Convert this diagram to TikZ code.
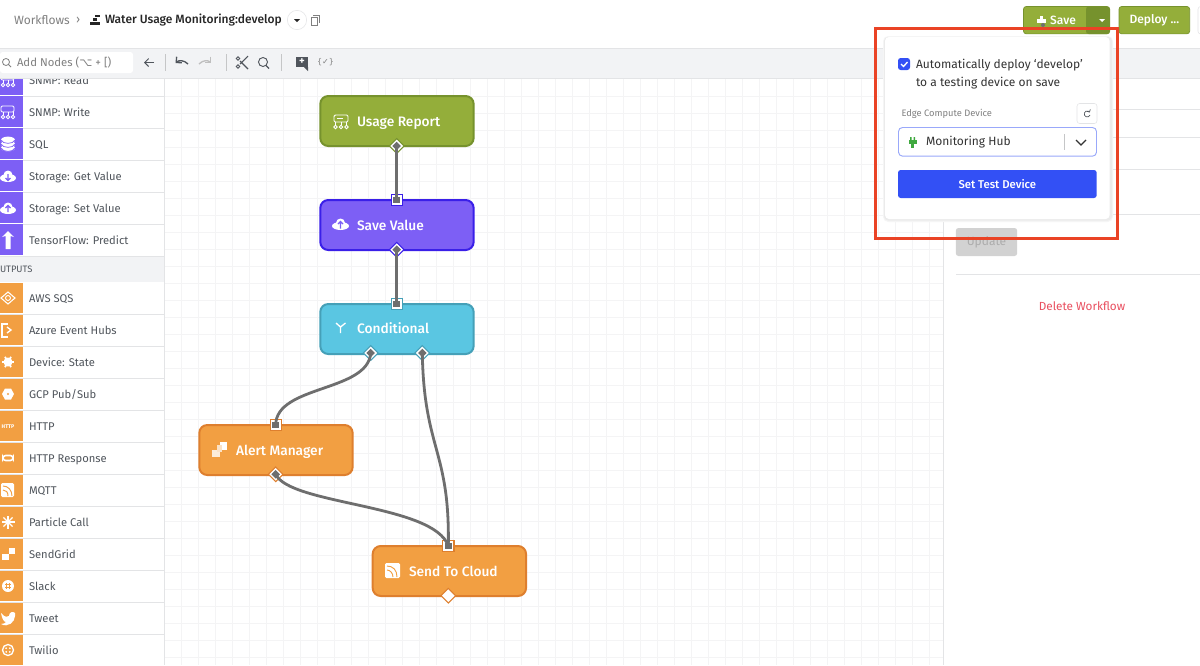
\documentclass[tikz,border=0pt]{standalone}
\usepackage{fontspec}
\setmainfont{Fira Sans}
\newfontfamily\medfont{Fira Sans Medium}
\newfontfamily\symfont{DejaVu Sans}
\usetikzlibrary{positioning,shapes.geometric,arrows.meta}
\definecolor{txtgrey}{HTML}{50555C}
\definecolor{linegrey}{HTML}{E3E4E6}
\definecolor{bargrey}{HTML}{F2F3F5}
\definecolor{gridgrey}{HTML}{F4F4F5}
\definecolor{wireGrey}{HTML}{6E6E6E}
\definecolor{oliveFill}{HTML}{94AE3A}
\definecolor{oliveEdge}{HTML}{76922D}
\definecolor{purpleFill}{HTML}{7D5FF5}
\definecolor{purpleEdge}{HTML}{3A1FE8}
\definecolor{cyanFill}{HTML}{5AC6E2}
\definecolor{cyanEdge}{HTML}{45A0B8}
\definecolor{orangeFill}{HTML}{F29F42}
\definecolor{orangeEdge}{HTML}{DE7F2E}
\definecolor{blueBtn}{HTML}{3350F5}
\definecolor{redFrame}{HTML}{EA4325}
\definecolor{deleteRed}{HTML}{E94F5F}
\tikzset{
	every node/.style={outer sep=0pt,inner sep=0pt},
	flownode/.style={draw=#1Edge,fill=#1Fill,line width=1.5pt,rounded corners=6,minimum width=115pt,minimum height=37.5pt,anchor=north west},
	flowtext/.style={text=white,font=\fontsize{10.3}{12}\medfont,anchor=base west},
	outport/.style={diamond,draw=#1,fill=white,line width=.8pt,minimum size=11pt,
		path picture={\fill[wireGrey] (path picture bounding box.center) ++(-3.2pt,0pt) -- ++(3.2pt,3.2pt) -- ++(3.2pt,-3.2pt) -- ++(-3.2pt,-3.2pt) -- cycle;}},
	freeport/.style={diamond,draw=#1,fill=white,line width=.8pt,minimum size=11pt},
	inport/.style={rectangle,draw=#1,fill=white,line width=.8pt,minimum size=8.5pt,
		path picture={\fill[wireGrey] (path picture bounding box.center) ++(-2.6pt,-2.6pt) rectangle ++(5.2pt,5.2pt);}},
	wire/.style={draw=wireGrey,line width=2.1pt},
	listtext/.style={text=txtgrey,font=\fontsize{8.4}{10}\selectfont,anchor=base west},
	menubtn/.style={draw=oliveEdge,fill=oliveFill,rounded corners=2,line width=.5pt,anchor=north west},
	tooltext/.style={text=gray,font=\fontsize{8.5}{10}\selectfont},
	poptext/.style={anchor=west,text=black!80,font=\fontsize{9}{11}\selectfont},
}
\begin{document}
\begin{tikzpicture}[x=0.75pt,y=-0.75pt]
	% page
	\fill[white] (0,0) rectangle (1200,665);
	\useasboundingbox (0,0) rectangle (1200,665);

	% grid of the canvas
	\begin{scope}
		\clip (165,78) rectangle (943,665);
		\foreach \gx in {181,198,...,945} \draw[gridgrey,line width=.5pt] (\gx,78) -- (\gx,665);
		\foreach \gy in {96,113,...,665} \draw[gridgrey,line width=.5pt] (165,\gy) -- (943,\gy);
	\end{scope}

	% palette
	\fill[bargrey] (0,257) rectangle (164,282);
	\node[anchor=west,text=txtgrey,font=\fontsize{7}{8}\selectfont] (outputshead) at (0,269) {UTPUTS};
	\foreach \ly/\ltext in {80/SNMP: Read,112/SNMP: Write,144/SQL,176/Storage: Get Value,208/Storage: Set Value,240/TensorFlow: Predict}{
		\fill[purpleFill] (0,\ly-16) rectangle (23,\ly+15);
		\draw[linegrey] (0,\ly+16) -- (164,\ly+16);
		\node[listtext] at (29,\ly+4) {\ltext};
	}
	\foreach \ly/\ltext in {298/AWS SQS,330/Azure Event Hubs,362/Device: State,394/{GCP Pub/Sub},426/HTTP,458/HTTP Response,490/MQTT,522/Particle Call,554/SendGrid,586/Slack,618/Tweet,650/Twilio}{
		\fill[orangeFill] (0,\ly-15) rectangle (23,\ly+15);
		\draw[linegrey] (0,\ly+16) -- (164,\ly+16);
		\node[listtext] at (29,\ly+4) {\ltext};
	}
	\draw[linegrey] (164.5,78) -- (164.5,665);
	% palette icons
	\foreach \iy in {80,112} {
		\draw[white,line width=.7pt,rounded corners=1] (1,\iy-6) rectangle (14,\iy);
		\foreach \ix in {3,8,13} {
			\draw[white,line width=.6pt] (\ix,\iy+5) circle (1.7);
			\draw[white,line width=.5pt] (\ix,\iy+3) -- (\ix,\iy);
		}
	}
	\foreach \iy in {148,144,140} {
		\fill[white] (8,\iy) ellipse (7 and 3.4);
		\draw[purpleFill,line width=.5pt] (1,\iy) .. controls (3,\iy+4.5) and (13,\iy+4.5) .. (15,\iy);
	}
	\foreach \iy in {176,208} {
		\fill[white] (8,\iy+2) ellipse (8 and 4);
		\fill[white] (8,\iy-1) circle (4.5);
	}
	\draw[purpleFill,line width=1pt] (8,174) -- (8,180) (5.5,178) -- (8,180.5) -- (10.5,178);
	\draw[purpleFill,line width=1pt] (8,212) -- (8,206) (5.5,208) -- (8,205.5) -- (10.5,208);
	\fill[white] (8,231) -- (14,237) -- (10.5,236) -- (10.5,249) -- (5.5,249) -- (5.5,236) -- (2,237) -- cycle;
	\draw[white,line width=.8pt] (1,298) -- (8,292) -- (15,298) -- (8,304) -- cycle;
	\draw[white,line width=.7pt] (8,298) circle (2.5);
	\draw[white,line width=1pt] (8,324) -- (2,324) -- (2,337) -- (8,337);
	\draw[white,line width=1pt] (7,327) -- (11,330) -- (7,333);
	\fill[white] (8,362) circle (4.5);
	\foreach \ang in {0,60,...,300} \draw[white,line width=1.3pt] (8,362) -- ++(\ang:6);
	\fill[white] (2,394) -- (5,388.5) -- (11,388.5) -- (14,394) -- (11,399.5) -- (5,399.5) -- cycle;
	\fill[orangeFill] (8,394) circle (1.2);
	\node[text=white,font=\fontsize{4}{5}\selectfont\bfseries] (httpicon) at (8,426.5) {HTTP};
	\draw[white,line width=1.2pt,rounded corners=2] (3,455.5) rectangle (13,460.5);
	\fill[white,rounded corners=1] (1,483) rectangle (14,497);
	\draw[orangeFill,line width=.7pt] (3,486) .. controls (8,486) and (12,490) .. (12,496);
	\draw[orangeFill,line width=.7pt] (3,490) .. controls (6,490) and (8,492) .. (8,496);
	\foreach \ang in {0,45,...,315} \draw[white,line width=1pt] (8,522) -- ++(\ang:6.5);
	\fill[white] (9,548) rectangle (15,554);
	\fill[white] (2,554) rectangle (9,560);
	\fill[white] (8,586) circle (6);
	\draw[orangeFill,line width=.5pt] (6.5,583) -- (6.5,589) (9.5,583) -- (9.5,589) (5,584.5) -- (11,584.5) (5,587.5) -- (11,587.5);
	\fill[white] (1,613) .. controls (5,618) and (8,617) .. (9,616) .. controls (9,612) and (13,611) .. (15,613) -- (15,616) .. controls (15,622) and (8,628) .. (1,624) .. controls (4,624) and (5,623) .. (6,622) .. controls (4,622) and (2,619) .. (1,613) -- cycle;
	\draw[white,line width=1pt] (8,650) circle (5.5);
	\foreach \ix/\iy in {6.2/648.2,9.8/648.2,6.2/651.8,9.8/651.8} \fill[white] (\ix,\iy) circle (1);

	% toolbar
	\fill[bargrey] (0,48) rectangle (1200,78);
	\draw[linegrey] (0,48) -- (1200,48);
	\draw[linegrey] (0,78) -- (1200,78);
	\draw[linegrey] (943,78) -- (943,665);
	\fill[white,rounded corners=2] (0,52) rectangle (133,73);
	\draw[gray,line width=.6pt] (6,62) circle (3.5);
	\draw[gray,line width=.6pt] (8.5,64.5) -- (11,67);
	\node[tooltext,anchor=west] (addnodes) at (17,63) {Add Nodes ({\symfont ⌥} + [)};
	\draw[-{Straight Barb[length=3pt]},txtgrey,line width=.7pt] (154,62.5) -- (144,62.5);
	\foreach \sx in {165,226,281} \draw[linegrey!70!gray,line width=.7pt] (\sx,54) -- (\sx,71);
	\draw[-{Straight Barb[length=3pt]},txtgrey,line width=1pt] (188,64) .. controls (184,60) and (179,60) .. (175.5,63);
	\draw[-{Straight Barb[length=3pt]},gray!50,line width=1pt] (199,64) .. controls (203,60) and (208,60) .. (211,63);
	\draw[txtgrey,line width=.8pt] (240,64) -- (248,56) (240,61) -- (248,69);
	\draw[txtgrey,line width=.7pt] (238,58.5) circle (1.8) (238,66.5) circle (1.8);
	\draw[txtgrey,line width=.7pt] (263,62) circle (4.5);
	\draw[txtgrey,line width=.8pt] (266,65.5) -- (269,68.5);
	\fill[txtgrey] (296,57) rectangle (308,67);
	\fill[txtgrey] (304,67) -- (308,67) -- (308,71) -- cycle;
	\node[text=white,font=\fontsize{8}{8}\selectfont\bfseries] (addnote) at (302,61.5) {+};
	\node[tooltext,font=\fontsize{6}{8}\symfont] (fnicon) at (325.5,62.5) {\{✓\}};

	% header
	\node[anchor=west,text=gray,font=\fontsize{9}{10}\selectfont] (crumb) at (14,20) {Workflows};
	\node[anchor=west,text=gray,font=\fontsize{9}{10}\selectfont] (crumbsep) at (76,20) {›};
	\fill[black!85] (90,22) rectangle (100,25);
	\fill[black!85] (93,18) rectangle (97,21);
	\fill[black!85] (95,15) rectangle (100,16.5);
	\node[anchor=west,text=black!85,font=\fontsize{9}{10}\medfont] (title) at (105,20) {Water Usage Monitoring:develop};
	\node[circle,draw=linegrey,fill=white,minimum size=14.5pt] (titlemenu) at (297,20) {};
	\fill[black!85] (294,19) -- (300,19) -- (297,22) -- cycle;
	\draw[gray,line width=.5pt] (311,17) rectangle (317,25);
	\draw[gray,line width=.5pt] (313,15) -- (319,15) -- (319,23);

	\node[menubtn,minimum width=64.5pt,minimum height=20.5pt] (savebtn) at (1023.5,6.5) {};
	\fill[oliveEdge,rounded corners=2] (1086,6.5) rectangle (1110,34);
	\fill[white] (1099,19) -- (1105,19) -- (1102,22) -- cycle;
	\node[text=white,font=\fontsize{9}{10}\medfont] (savetext) at (1063,20) {Save};
	\fill[white] (1037,19) rectangle (1046,23);
	\fill[white] (1040,16) rectangle (1043,19);
	\fill[wireGrey] (1043,25) circle (2);
	\node[menubtn,minimum width=53pt,minimum height=20.5pt,text=white,font=\fontsize{9}{10}\medfont] (deploybtn) at (1119,6.5) {Deploy ...};
	\draw[linegrey,fill=white,rounded corners=2] (1198,6.5) rectangle (1210,34);

	% workflow nodes
	\node[flownode=olive] (usage) at (320.3,96) {};
	\node[flownode=purple] (savevalue) at (320.3,200) {};
	\node[flownode=cyan] (conditional) at (320.3,304) {};
	\node[flownode=orange] (alert) at (199.3,425) {};
	\node[flownode=orange] (cloud) at (372.7,546) {};
	\node[flowtext] (usagetext) at (357,126) {Usage Report};
	\node[flowtext] (savevaluetext) at (357,230) {Save Value};
	\node[flowtext] (conditionaltext) at (357,333.5) {Conditional};
	\node[flowtext] (alerttext) at (236,455) {Alert Manager};
	\node[flowtext] (cloudtext) at (409,576) {Send To Cloud};

	% node icons
	\draw[white,line width=.7pt,rounded corners=1] (334,115) rectangle (348,122);
	\draw[white,line width=.6pt] (337,118.5) -- (343,118.5);
	\foreach \ix in {335.5,341,346.5} {
		\draw[white,line width=.6pt] (\ix,127) circle (1.8);
		\draw[white,line width=.5pt] (\ix,125) -- (\ix,122);
	}
	\fill[white] (340.5,226) ellipse (8.5 and 4);
	\fill[white] (340.5,223) circle (4.5);
	\draw[purpleFill,line width=1pt] (340.5,228.5) -- (340.5,222) (338,224) -- (340.5,221.5) -- (343,224);
	\draw[white,line width=1pt] (340.5,333) -- (340.5,327) -- (336,323) (340.5,327) -- (345.5,323);
	\fill[white] (219.5,442) rectangle (227,449.5);
	\fill[white!80!orangeFill] (212,449.5) rectangle (219.5,457);
	\fill[white!70!orangeFill] (217,444.5) rectangle (222,452);
	\fill[white,rounded corners=1] (385,563) rectangle (400,578);
	\draw[orangeFill,line width=.7pt] (387,566) .. controls (393,566) and (397,570) .. (397,577);
	\draw[orangeFill,line width=.7pt] (387,570) .. controls (390,570) and (393,573) .. (393,577);

	% ports
	\node[outport=oliveEdge] (usageOut) at (396.7,146) {};
	\node[inport=purpleEdge] (saveIn) at (396.7,200) {};
	\node[outport=purpleEdge] (saveOut) at (396.7,249.7) {};
	\node[inport=cyanEdge] (condIn) at (396.7,304) {};
	\node[outport=cyanEdge] (condOutA) at (370.7,353) {};
	\node[outport=cyanEdge] (condOutB) at (422.3,353) {};
	\node[inport=orangeEdge] (alertIn) at (275.7,425) {};
	\node[outport=orangeEdge] (alertOut) at (275.7,474.3) {};
	\node[inport=orangeEdge] (cloudIn) at (448.3,546) {};
	\node[freeport=orangeEdge] (cloudOut) at (448.3,595.7) {};

	% wires
	\draw[wire] (usageOut.center) -- (saveIn.center);
	\draw[wire] (saveOut.center) -- (condIn.center);
	\draw[wire] (condOutA.center) .. controls (368,392) and (276,385) .. (alertIn.center);
	\draw[wire] (condOutB.center) .. controls (424,450) and (450,450) .. (cloudIn.center);
	\draw[wire] (alertOut.center) .. controls (290,505) and (434,504) .. (cloudIn.center);

	% right panel
	\foreach \py in {109,137,169,214,274} \draw[linegrey] (956,\py) -- (1200,\py);
	\node[rectangle,fill=gray!35,rounded corners=2,minimum width=46pt,minimum height=21pt,text=gray!65,font=\fontsize{9}{10}\selectfont] (updatebtn) at (986.5,242) {Update};
	\node[text=deleteRed,font=\fontsize{8.8}{10}\selectfont] (delete) at (1082,306) {Delete Workflow};

	% popup
	\fill[black!4,rounded corners=4] (883,36) rectangle (1113,222);
	\fill[black!8,rounded corners=3] (884,37) rectangle (1112,220.5);
	\node[fill=white,rounded corners=3,anchor=north west,minimum width=168.5pt,minimum height=136.5pt] (popup) at (885,37) {};
	\node[rectangle,fill=blueBtn,rounded corners=2,minimum size=9pt] (checkbox) at (904,64) {};
	\draw[white,line width=1pt] (901,64) -- (903.5,66.5) -- (907.5,62);
	\node[poptext] (autotext1) at (916,65.5) {Automatically deploy ‘develop’};
	\node[poptext] (autotext2) at (916,83) {to a testing device on save};
	\node[anchor=west,text=gray,font=\fontsize{7}{8}\selectfont] (edgelabel) at (901.5,113.5) {Edge Compute Device};
	\node[rectangle,draw=linegrey,fill=white,rounded corners=2,minimum size=15pt] (refresh) at (1087,113.5) {};
	\draw[-{Straight Barb[length=1.5pt]},txtgrey,line width=.5pt] (1090,115) arc (20:330:3);
	\node[rectangle,draw=blueBtn!50!white,fill=white,rounded corners=3,line width=.7pt,minimum width=148.5pt,minimum height=21.5pt,anchor=north west] (devicebox) at (898.5,127.5) {};
	\fill[green!55!black!75] (910,137) rectangle (911.5,140) (913.5,137) rectangle (915,140);
	\fill[green!55!black!75] (908.5,140) rectangle (916.5,144);
	\fill[green!55!black!75] (911,144) rectangle (914,148);
	\node[poptext] (devicetext) at (926,142) {Monitoring Hub};
	\draw[linegrey!70!gray,line width=.5pt] (1064.5,134) -- (1064.5,150);
	\draw[black!80,line width=1pt] (1076,140) -- (1081,145) -- (1086,140);
	\node[rectangle,fill=blueBtn,rounded corners=2,anchor=north west,minimum width=149pt,minimum height=21pt,text=white,font=\fontsize{8.5}{10}\medfont] (setdevice) at (898,170) {Set Test Device};

	% highlight frame
	\node[rectangle,draw=redFrame,line width=2.2pt,anchor=north west,minimum width=181.2pt,minimum height=157.2pt] (frame) at (875.7,28.5) {};
\end{tikzpicture}
\end{document}
